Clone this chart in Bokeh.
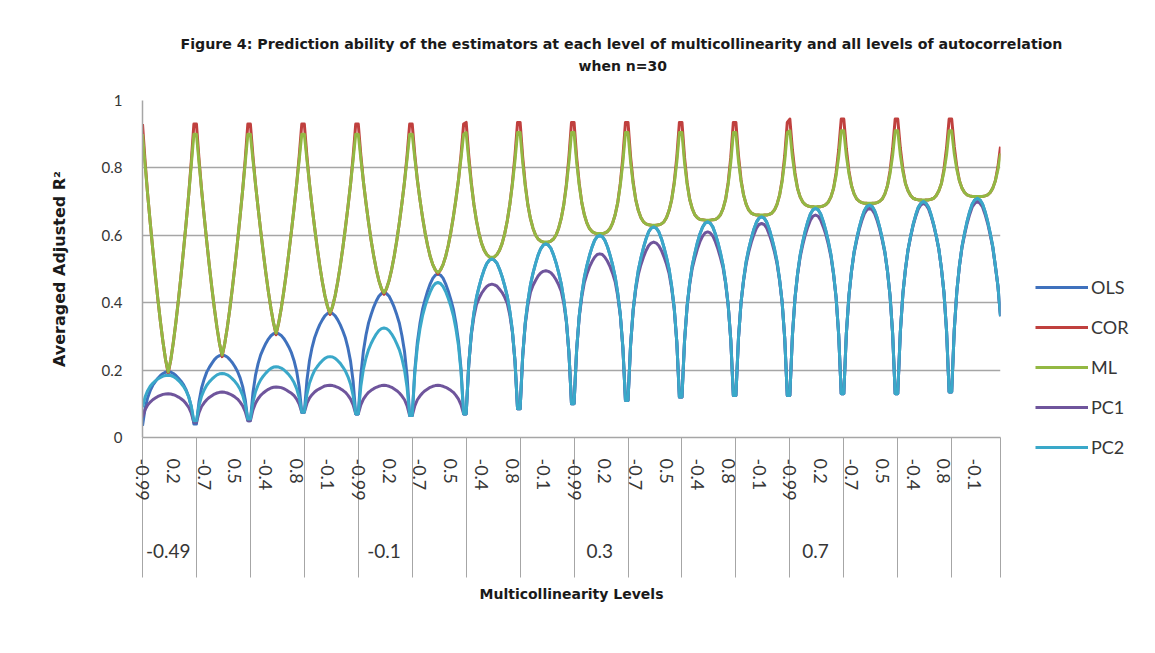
from bokeh.plotting import figure
from bokeh.models import FixedTicker, Legend, LegendItem, Range1d, ColumnDataSource, LinearAxis, Title
from bokeh.embed import file_html
from bokeh.resources import INLINE

# ---------------- data ----------------
AUTOCORR = ["-0.99", "-0.9", "-0.8", "-0.7", "-0.6", "-0.5", "-0.4", "-0.3", "-0.2", "-0.1",
            "0", "0.1", "0.2", "0.3", "0.4", "0.5", "0.6", "0.7", "0.8", "0.9", "0.99"]
MULTICOL_SHOWN = {0: "-0.49", 4: "-0.1", 8: "0.3", 12: "0.7"}   # labelled multicollinearity groups
Y_TICKS = [0, 0.2, 0.4, 0.6, 0.8, 1]
Y_LABELS = ["0", "0.2", "0.4", "0.6", "0.8", "1"]

OLS = [
    [0.035, 0.086, 0.118, 0.139, 0.155, 0.166, 0.176, 0.184, 0.190, 0.194, 0.195, 0.194, 0.190, 0.184, 0.176, 0.167, 0.156, 0.141, 0.121, 0.090, 0.040],
    [0.040, 0.106, 0.147, 0.173, 0.194, 0.208, 0.220, 0.231, 0.239, 0.243, 0.245, 0.243, 0.239, 0.231, 0.222, 0.210, 0.196, 0.177, 0.151, 0.112, 0.050],
    [0.050, 0.133, 0.185, 0.219, 0.245, 0.263, 0.279, 0.292, 0.302, 0.308, 0.310, 0.308, 0.303, 0.294, 0.282, 0.268, 0.251, 0.228, 0.197, 0.150, 0.075],
    [0.075, 0.169, 0.228, 0.267, 0.296, 0.317, 0.335, 0.349, 0.361, 0.368, 0.370, 0.368, 0.361, 0.349, 0.334, 0.316, 0.295, 0.265, 0.226, 0.166, 0.070],
    [0.070, 0.185, 0.257, 0.304, 0.340, 0.365, 0.387, 0.405, 0.419, 0.427, 0.430, 0.427, 0.419, 0.404, 0.386, 0.364, 0.339, 0.302, 0.255, 0.182, 0.065],
    [0.065, 0.199, 0.283, 0.338, 0.380, 0.409, 0.435, 0.456, 0.472, 0.482, 0.485, 0.482, 0.473, 0.456, 0.435, 0.410, 0.381, 0.340, 0.286, 0.203, 0.070],
    [0.070, 0.217, 0.309, 0.369, 0.415, 0.447, 0.475, 0.498, 0.516, 0.526, 0.530, 0.526, 0.517, 0.499, 0.477, 0.450, 0.419, 0.374, 0.316, 0.227, 0.085],
    [0.085, 0.242, 0.340, 0.403, 0.452, 0.487, 0.516, 0.541, 0.560, 0.571, 0.575, 0.571, 0.561, 0.542, 0.518, 0.489, 0.456, 0.409, 0.347, 0.252, 0.100],
    [0.100, 0.260, 0.360, 0.425, 0.475, 0.510, 0.540, 0.565, 0.585, 0.596, 0.600, 0.596, 0.585, 0.566, 0.541, 0.512, 0.477, 0.428, 0.365, 0.267, 0.110],
    [0.110, 0.275, 0.378, 0.445, 0.496, 0.532, 0.563, 0.589, 0.610, 0.621, 0.625, 0.621, 0.610, 0.590, 0.564, 0.534, 0.499, 0.448, 0.383, 0.282, 0.120],
    [0.120, 0.286, 0.390, 0.458, 0.510, 0.546, 0.578, 0.604, 0.624, 0.636, 0.640, 0.636, 0.625, 0.604, 0.578, 0.547, 0.511, 0.460, 0.393, 0.290, 0.125],
    [0.125, 0.295, 0.401, 0.469, 0.522, 0.560, 0.591, 0.618, 0.639, 0.651, 0.655, 0.651, 0.639, 0.618, 0.591, 0.560, 0.522, 0.469, 0.401, 0.295, 0.125],
    [0.125, 0.303, 0.414, 0.486, 0.541, 0.580, 0.613, 0.641, 0.663, 0.676, 0.680, 0.676, 0.663, 0.641, 0.614, 0.581, 0.542, 0.487, 0.416, 0.306, 0.130],
    [0.130, 0.309, 0.421, 0.494, 0.550, 0.589, 0.623, 0.651, 0.673, 0.686, 0.690, 0.686, 0.673, 0.651, 0.623, 0.589, 0.550, 0.494, 0.421, 0.309, 0.130],
    [0.130, 0.312, 0.426, 0.500, 0.557, 0.597, 0.632, 0.660, 0.683, 0.695, 0.700, 0.695, 0.683, 0.660, 0.632, 0.598, 0.559, 0.502, 0.429, 0.316, 0.135],
    [0.135, 0.319, 0.434, 0.509, 0.566, 0.606, 0.641, 0.670, 0.693, 0.705, 0.710, 0.705, 0.693, 0.670, 0.641, 0.606, 0.566, 0.509, 0.450, 0.360],
]

COR = [
    [0.930, 0.820, 0.722, 0.638, 0.558, 0.481, 0.409, 0.342, 0.282, 0.230, 0.190, 0.230, 0.282, 0.342, 0.409, 0.481, 0.558, 0.638, 0.722, 0.820, 0.930],
    [0.930, 0.826, 0.735, 0.657, 0.582, 0.511, 0.444, 0.382, 0.326, 0.278, 0.240, 0.278, 0.326, 0.382, 0.444, 0.511, 0.582, 0.657, 0.735, 0.826, 0.930],
    [0.930, 0.834, 0.751, 0.681, 0.614, 0.550, 0.489, 0.433, 0.383, 0.340, 0.305, 0.340, 0.383, 0.433, 0.489, 0.550, 0.614, 0.681, 0.751, 0.834, 0.930],
    [0.930, 0.835, 0.753, 0.686, 0.623, 0.564, 0.510, 0.462, 0.421, 0.389, 0.365, 0.389, 0.421, 0.462, 0.510, 0.564, 0.623, 0.686, 0.753, 0.835, 0.930],
    [0.930, 0.837, 0.759, 0.696, 0.638, 0.585, 0.539, 0.499, 0.466, 0.442, 0.425, 0.442, 0.466, 0.499, 0.539, 0.585, 0.638, 0.696, 0.759, 0.837, 0.930],
    [0.930, 0.839, 0.764, 0.706, 0.654, 0.608, 0.569, 0.537, 0.513, 0.497, 0.485, 0.497, 0.513, 0.537, 0.569, 0.608, 0.654, 0.706, 0.764, 0.839, 0.930],
    [0.935, 0.837, 0.756, 0.692, 0.643, 0.605, 0.576, 0.556, 0.543, 0.536, 0.530, 0.536, 0.543, 0.556, 0.576, 0.605, 0.643, 0.692, 0.756, 0.837, 0.935],
    [0.935, 0.832, 0.751, 0.691, 0.650, 0.621, 0.601, 0.589, 0.583, 0.580, 0.575, 0.580, 0.583, 0.589, 0.601, 0.621, 0.650, 0.691, 0.751, 0.832, 0.935],
    [0.935, 0.832, 0.754, 0.697, 0.661, 0.636, 0.620, 0.611, 0.607, 0.605, 0.600, 0.605, 0.607, 0.611, 0.620, 0.636, 0.661, 0.697, 0.754, 0.832, 0.935],
    [0.935, 0.833, 0.758, 0.706, 0.674, 0.653, 0.640, 0.634, 0.631, 0.630, 0.626, 0.630, 0.631, 0.634, 0.640, 0.653, 0.674, 0.706, 0.758, 0.833, 0.935],
    [0.935, 0.831, 0.757, 0.707, 0.679, 0.661, 0.652, 0.647, 0.646, 0.645, 0.641, 0.645, 0.646, 0.647, 0.652, 0.661, 0.679, 0.707, 0.757, 0.831, 0.935],
    [0.935, 0.836, 0.765, 0.719, 0.692, 0.675, 0.666, 0.662, 0.660, 0.660, 0.656, 0.660, 0.660, 0.662, 0.666, 0.675, 0.692, 0.719, 0.765, 0.836, 0.935],
    [0.945, 0.853, 0.785, 0.739, 0.714, 0.699, 0.691, 0.687, 0.685, 0.685, 0.681, 0.685, 0.685, 0.687, 0.691, 0.699, 0.714, 0.739, 0.785, 0.853, 0.945],
    [0.945, 0.856, 0.791, 0.747, 0.723, 0.708, 0.701, 0.697, 0.695, 0.695, 0.691, 0.695, 0.695, 0.697, 0.701, 0.708, 0.723, 0.747, 0.791, 0.856, 0.945],
    [0.945, 0.859, 0.797, 0.754, 0.732, 0.718, 0.710, 0.707, 0.705, 0.705, 0.701, 0.705, 0.705, 0.707, 0.710, 0.718, 0.732, 0.754, 0.797, 0.859, 0.945],
    [0.945, 0.863, 0.803, 0.762, 0.740, 0.727, 0.720, 0.717, 0.715, 0.715, 0.711, 0.715, 0.715, 0.717, 0.720, 0.727, 0.740, 0.762, 0.803, 0.863],
]

ML = [
    [0.900, 0.810, 0.722, 0.638, 0.558, 0.481, 0.409, 0.342, 0.282, 0.230, 0.195, 0.230, 0.282, 0.342, 0.409, 0.481, 0.558, 0.638, 0.722, 0.810, 0.900],
    [0.900, 0.816, 0.735, 0.657, 0.582, 0.511, 0.444, 0.382, 0.326, 0.278, 0.245, 0.278, 0.326, 0.382, 0.444, 0.511, 0.582, 0.657, 0.735, 0.816, 0.900],
    [0.900, 0.824, 0.751, 0.681, 0.614, 0.550, 0.489, 0.433, 0.383, 0.340, 0.310, 0.340, 0.383, 0.433, 0.489, 0.550, 0.614, 0.681, 0.751, 0.824, 0.900],
    [0.900, 0.825, 0.753, 0.686, 0.623, 0.564, 0.510, 0.462, 0.421, 0.389, 0.370, 0.389, 0.421, 0.462, 0.510, 0.564, 0.623, 0.686, 0.753, 0.825, 0.900],
    [0.900, 0.827, 0.759, 0.696, 0.638, 0.585, 0.539, 0.499, 0.466, 0.442, 0.430, 0.442, 0.466, 0.499, 0.539, 0.585, 0.638, 0.696, 0.759, 0.827, 0.900],
    [0.900, 0.829, 0.764, 0.706, 0.654, 0.608, 0.569, 0.537, 0.513, 0.497, 0.490, 0.497, 0.513, 0.537, 0.569, 0.608, 0.654, 0.706, 0.764, 0.829, 0.900],
    [0.905, 0.822, 0.751, 0.692, 0.643, 0.605, 0.576, 0.556, 0.543, 0.536, 0.535, 0.536, 0.543, 0.556, 0.576, 0.605, 0.643, 0.692, 0.751, 0.822, 0.905],
    [0.905, 0.817, 0.746, 0.691, 0.650, 0.621, 0.601, 0.589, 0.583, 0.580, 0.580, 0.580, 0.583, 0.589, 0.601, 0.621, 0.650, 0.691, 0.746, 0.817, 0.905],
    [0.905, 0.817, 0.749, 0.697, 0.661, 0.636, 0.620, 0.611, 0.607, 0.605, 0.605, 0.605, 0.607, 0.611, 0.620, 0.636, 0.661, 0.697, 0.749, 0.817, 0.905],
    [0.905, 0.818, 0.753, 0.706, 0.674, 0.653, 0.640, 0.634, 0.631, 0.630, 0.630, 0.630, 0.631, 0.634, 0.640, 0.653, 0.674, 0.706, 0.753, 0.818, 0.905],
    [0.905, 0.816, 0.752, 0.707, 0.679, 0.661, 0.652, 0.647, 0.646, 0.645, 0.645, 0.645, 0.646, 0.647, 0.652, 0.661, 0.679, 0.707, 0.752, 0.816, 0.905],
    [0.905, 0.821, 0.760, 0.719, 0.692, 0.675, 0.666, 0.662, 0.660, 0.660, 0.660, 0.660, 0.660, 0.662, 0.666, 0.675, 0.692, 0.719, 0.760, 0.821, 0.905],
    [0.910, 0.833, 0.777, 0.739, 0.714, 0.699, 0.691, 0.687, 0.685, 0.685, 0.685, 0.685, 0.685, 0.687, 0.691, 0.699, 0.714, 0.739, 0.777, 0.833, 0.910],
    [0.910, 0.836, 0.783, 0.747, 0.723, 0.708, 0.701, 0.697, 0.695, 0.695, 0.695, 0.695, 0.695, 0.697, 0.701, 0.708, 0.723, 0.747, 0.783, 0.836, 0.910],
    [0.910, 0.839, 0.789, 0.754, 0.732, 0.718, 0.710, 0.707, 0.705, 0.705, 0.705, 0.705, 0.705, 0.707, 0.710, 0.718, 0.732, 0.754, 0.789, 0.839, 0.910],
    [0.910, 0.843, 0.795, 0.762, 0.740, 0.727, 0.720, 0.717, 0.715, 0.715, 0.715, 0.715, 0.715, 0.717, 0.720, 0.727, 0.740, 0.762, 0.795, 0.843],
]

PC1 = [
    [0.060, 0.082, 0.096, 0.105, 0.112, 0.117, 0.122, 0.125, 0.128, 0.129, 0.130, 0.129, 0.127, 0.124, 0.120, 0.115, 0.109, 0.100, 0.089, 0.072, 0.045],
    [0.045, 0.074, 0.092, 0.103, 0.112, 0.119, 0.124, 0.129, 0.132, 0.134, 0.135, 0.134, 0.132, 0.129, 0.125, 0.120, 0.114, 0.105, 0.094, 0.077, 0.050],
    [0.050, 0.082, 0.102, 0.115, 0.125, 0.132, 0.138, 0.143, 0.147, 0.149, 0.150, 0.149, 0.148, 0.145, 0.141, 0.136, 0.131, 0.124, 0.114, 0.099, 0.075],
    [0.075, 0.101, 0.117, 0.127, 0.135, 0.141, 0.145, 0.149, 0.153, 0.154, 0.155, 0.154, 0.152, 0.149, 0.145, 0.140, 0.134, 0.125, 0.114, 0.097, 0.070],
    [0.070, 0.097, 0.114, 0.125, 0.134, 0.140, 0.145, 0.149, 0.152, 0.154, 0.155, 0.154, 0.152, 0.149, 0.144, 0.139, 0.132, 0.123, 0.112, 0.094, 0.065],
    [0.065, 0.094, 0.112, 0.123, 0.132, 0.139, 0.144, 0.149, 0.152, 0.154, 0.155, 0.154, 0.152, 0.149, 0.145, 0.140, 0.134, 0.125, 0.114, 0.097, 0.070],
    [0.070, 0.216, 0.305, 0.358, 0.394, 0.413, 0.428, 0.439, 0.448, 0.453, 0.455, 0.453, 0.449, 0.440, 0.430, 0.416, 0.398, 0.363, 0.312, 0.226, 0.085],
    [0.085, 0.241, 0.336, 0.392, 0.430, 0.451, 0.466, 0.479, 0.488, 0.493, 0.495, 0.493, 0.489, 0.480, 0.468, 0.453, 0.434, 0.398, 0.343, 0.251, 0.100],
    [0.100, 0.259, 0.357, 0.417, 0.460, 0.485, 0.506, 0.522, 0.535, 0.543, 0.545, 0.543, 0.535, 0.523, 0.507, 0.487, 0.462, 0.420, 0.362, 0.266, 0.110],
    [0.110, 0.275, 0.376, 0.439, 0.483, 0.512, 0.535, 0.554, 0.569, 0.577, 0.580, 0.577, 0.569, 0.555, 0.536, 0.514, 0.486, 0.442, 0.381, 0.282, 0.120],
    [0.120, 0.286, 0.388, 0.454, 0.502, 0.532, 0.559, 0.581, 0.597, 0.607, 0.610, 0.607, 0.598, 0.581, 0.559, 0.533, 0.503, 0.456, 0.391, 0.290, 0.125],
    [0.125, 0.295, 0.400, 0.466, 0.516, 0.551, 0.579, 0.602, 0.621, 0.632, 0.635, 0.632, 0.621, 0.602, 0.579, 0.551, 0.516, 0.466, 0.400, 0.295, 0.125],
    [0.125, 0.303, 0.413, 0.483, 0.535, 0.571, 0.601, 0.625, 0.645, 0.657, 0.660, 0.657, 0.645, 0.625, 0.602, 0.572, 0.536, 0.484, 0.415, 0.306, 0.130],
    [0.130, 0.309, 0.420, 0.493, 0.547, 0.584, 0.617, 0.643, 0.664, 0.676, 0.680, 0.676, 0.664, 0.643, 0.617, 0.584, 0.547, 0.493, 0.420, 0.309, 0.130],
    [0.130, 0.312, 0.426, 0.499, 0.556, 0.595, 0.629, 0.656, 0.678, 0.690, 0.695, 0.690, 0.678, 0.656, 0.629, 0.596, 0.558, 0.501, 0.429, 0.316, 0.135],
    [0.135, 0.319, 0.433, 0.508, 0.563, 0.601, 0.635, 0.662, 0.684, 0.695, 0.700, 0.695, 0.684, 0.662, 0.635, 0.601, 0.563, 0.508, 0.449, 0.360],
]

PC2 = [
    [0.090, 0.120, 0.139, 0.152, 0.161, 0.168, 0.174, 0.178, 0.182, 0.184, 0.185, 0.184, 0.181, 0.176, 0.169, 0.161, 0.151, 0.138, 0.120, 0.093, 0.050],
    [0.050, 0.095, 0.123, 0.141, 0.155, 0.165, 0.173, 0.180, 0.186, 0.189, 0.190, 0.189, 0.186, 0.181, 0.174, 0.166, 0.156, 0.143, 0.125, 0.098, 0.055],
    [0.055, 0.105, 0.136, 0.156, 0.171, 0.182, 0.191, 0.199, 0.205, 0.209, 0.210, 0.209, 0.206, 0.201, 0.194, 0.186, 0.176, 0.163, 0.145, 0.118, 0.075],
    [0.075, 0.128, 0.161, 0.182, 0.199, 0.210, 0.220, 0.228, 0.235, 0.239, 0.240, 0.239, 0.235, 0.228, 0.220, 0.209, 0.197, 0.180, 0.158, 0.124, 0.070],
    [0.070, 0.152, 0.203, 0.236, 0.261, 0.279, 0.294, 0.307, 0.317, 0.323, 0.325, 0.323, 0.317, 0.307, 0.294, 0.278, 0.260, 0.234, 0.200, 0.148, 0.065],
    [0.065, 0.191, 0.270, 0.322, 0.361, 0.389, 0.413, 0.432, 0.448, 0.457, 0.460, 0.457, 0.448, 0.433, 0.413, 0.390, 0.362, 0.323, 0.273, 0.195, 0.070],
    [0.070, 0.217, 0.309, 0.369, 0.415, 0.447, 0.475, 0.498, 0.516, 0.526, 0.530, 0.526, 0.517, 0.499, 0.477, 0.450, 0.419, 0.374, 0.316, 0.227, 0.085],
    [0.085, 0.242, 0.340, 0.403, 0.452, 0.487, 0.516, 0.541, 0.560, 0.571, 0.575, 0.571, 0.561, 0.542, 0.518, 0.489, 0.456, 0.409, 0.347, 0.252, 0.100],
    [0.100, 0.260, 0.360, 0.425, 0.475, 0.510, 0.540, 0.565, 0.585, 0.596, 0.600, 0.596, 0.585, 0.566, 0.541, 0.512, 0.477, 0.428, 0.365, 0.267, 0.110],
    [0.110, 0.275, 0.378, 0.445, 0.496, 0.532, 0.563, 0.589, 0.610, 0.621, 0.625, 0.621, 0.610, 0.590, 0.564, 0.534, 0.499, 0.448, 0.383, 0.282, 0.120],
    [0.120, 0.286, 0.390, 0.458, 0.510, 0.546, 0.578, 0.604, 0.624, 0.636, 0.640, 0.636, 0.625, 0.604, 0.578, 0.547, 0.511, 0.460, 0.393, 0.290, 0.125],
    [0.125, 0.295, 0.401, 0.469, 0.522, 0.560, 0.591, 0.618, 0.639, 0.651, 0.655, 0.651, 0.639, 0.618, 0.591, 0.560, 0.522, 0.469, 0.401, 0.295, 0.125],
    [0.125, 0.303, 0.414, 0.486, 0.541, 0.580, 0.613, 0.641, 0.663, 0.676, 0.680, 0.676, 0.663, 0.641, 0.614, 0.581, 0.542, 0.487, 0.416, 0.306, 0.130],
    [0.130, 0.309, 0.421, 0.494, 0.550, 0.589, 0.623, 0.651, 0.673, 0.686, 0.690, 0.686, 0.673, 0.651, 0.623, 0.589, 0.550, 0.494, 0.421, 0.309, 0.130],
    [0.130, 0.312, 0.426, 0.500, 0.557, 0.597, 0.632, 0.660, 0.683, 0.695, 0.700, 0.695, 0.683, 0.660, 0.632, 0.598, 0.559, 0.502, 0.429, 0.316, 0.135],
    [0.135, 0.319, 0.434, 0.509, 0.566, 0.606, 0.641, 0.670, 0.693, 0.705, 0.710, 0.705, 0.693, 0.670, 0.641, 0.606, 0.566, 0.509, 0.450, 0.360],
]

SERIES = [("OLS", OLS, "#3f71bd"), ("COR", COR, "#c0403e"), ("ML", ML, "#93b843"),
          ("PC1", PC1, "#6f559c"), ("PC2", PC2, "#3aa8c9")]

# ---------------- figure ----------------
FONT = "Lato"
BFONT = "DejaVu Sans"
TXT = "#363636"
DARK = "#1a1a1a"
GRAY = "#a6a6a6"
GROUP = len(AUTOCORR)


def flat(rows):
    return [v for row in rows for v in row]


n_pts = len(flat(OLS))

p = figure(frame_width=858, frame_height=337,
           min_border_left=142, min_border_right=150, min_border_top=100, min_border_bottom=200,
           x_range=Range1d(0, n_pts - 1), y_range=Range1d(0, 1),
           output_backend="svg", toolbar_location=None)
p.outline_line_color = None
p.background_fill_color = "white"
p.border_fill_color = "white"

renderers = []
for name, rows, color in SERIES:
    ys = flat(rows)
    src = ColumnDataSource(dict(x=list(range(len(ys))), y=ys))
    r = p.line("x", "y", source=src, line_color=color, line_width=3, line_join="round")
    renderers.append((name, r))

# inner x axis: autocorrelation labels (every 12th category) + group separators
label_pos = list(range(0, n_pts, 12))
sep_pos = list(range(0, n_pts, GROUP)) + [n_pts - 1]
xa = p.xaxis[0]
xa.ticker = FixedTicker(ticks=label_pos, minor_ticks=sep_pos)
xa.major_label_overrides = {t: AUTOCORR[t % GROUP] for t in label_pos}
xa.major_label_orientation = "vertical"
xa.major_label_text_font = FONT
xa.major_label_text_font_size = "18px"
xa.major_label_text_color = TXT
xa.major_label_standoff = -119
xa.major_tick_out = 0
xa.major_tick_in = 0
xa.minor_tick_out = 140
xa.minor_tick_in = 0
xa.minor_tick_line_color = GRAY
xa.minor_tick_line_width = 1
xa.axis_line_color = GRAY
xa.axis_line_width = 1.5

# outer x axis: multicollinearity levels
outer_pos = [g * GROUP + 10 for g in MULTICOL_SHOWN]
xa2 = LinearAxis(ticker=FixedTicker(ticks=outer_pos),
                 major_label_overrides={g * GROUP + 10: s for g, s in MULTICOL_SHOWN.items()},
                 major_label_text_font=FONT, major_label_text_font_size="19px",
                 major_label_text_color=TXT, major_label_standoff=34,
                 major_tick_line_color=None, minor_tick_line_color=None, axis_line_color=None,
                 axis_label="Multicollinearity Levels", axis_label_text_font=BFONT,
                 axis_label_text_font_size="14px", axis_label_text_font_style="bold",
                 axis_label_text_color=DARK, axis_label_standoff=25)
p.add_layout(xa2, "below")

ya = p.yaxis[0]
ya.ticker = FixedTicker(ticks=Y_TICKS)
ya.major_label_overrides = {t: s for t, s in zip(Y_TICKS, Y_LABELS)}
ya.major_label_text_font = FONT
ya.major_label_text_font_size = "15px"
ya.major_label_text_color = TXT
ya.major_label_standoff = 20
ya.major_tick_out = 0
ya.major_tick_in = 0
ya.minor_tick_line_color = None
ya.axis_line_color = GRAY
ya.axis_line_width = 1.5
ya.axis_label = "Averaged Adjusted R²"
ya.axis_label_text_font = BFONT
ya.axis_label_text_font_style = "bold"
ya.axis_label_text_font_size = "16px"
ya.axis_label_text_color = DARK
ya.axis_label_standoff = 30

p.xgrid.grid_line_color = None
p.ygrid.ticker = FixedTicker(ticks=Y_TICKS)
p.ygrid.grid_line_color = GRAY
p.ygrid.grid_line_width = 1.5

# two-line title
p.add_layout(Title(text="when n=30", align="left", offset=436, standoff=54,
                   text_font=BFONT, text_font_size="14px", text_font_style="bold",
                   text_color=DARK), "above")
p.add_layout(Title(text="Figure 4: Prediction ability of the estimators  at each level of "
                        "multicollinearity and all levels of autocorrelation",
                   align="left", offset=38, standoff=-46,
                   text_font=BFONT, text_font_size="14.2px", text_font_style="bold",
                   text_color=DARK), "above")

legend = Legend(items=[LegendItem(label=n, renderers=[r]) for n, r in renderers],
                location=(35, -21), orientation="vertical",
                glyph_width=53, glyph_height=20, label_height=20, spacing=18,
                label_standoff=3, padding=0, margin=0,
                label_text_font=FONT, label_text_font_size="18px", label_text_color=TXT,
                border_line_color=None, background_fill_alpha=0)
p.add_layout(legend, "right")

open("out.html", "w").write(file_html(p, INLINE))
